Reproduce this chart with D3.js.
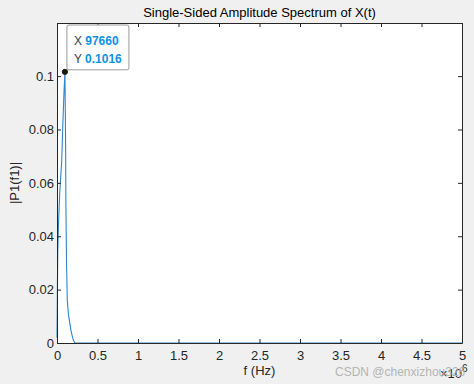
<!DOCTYPE html>
<html>
<head>
<meta charset="utf-8">
<script src="https://cdn.jsdelivr.net/npm/d3@7"></script>
<style>
  body { margin: 0; background: #f0f0f0; }
  text { font-family: "Liberation Sans", Arial, sans-serif; }
</style>
</head>
<body>
<script>
// spectrum samples (Hz, |P1|)
var freqs = [0, 5000, 10000, 20000, 35000, 50000, 58000, 70000, 85000, 97660,
             103000, 107000, 110000, 118000, 127000, 140000, 152000, 170000, 185000, 200000, 220000, 1000000, 5000000];
var amps  = [0.002, 0.02, 0.035, 0.046, 0.057, 0.064, 0.068, 0.08, 0.093, 0.1016,
             0.086, 0.072, 0.05, 0.03, 0.016, 0.011, 0.0086, 0.005, 0.003, 0.0012, 0, 0, 0];
var xTicks = [0, 0.5e6, 1e6, 1.5e6, 2e6, 2.5e6, 3e6, 3.5e6, 4e6, 4.5e6, 5e6];
var yTicks = [0, 0.02, 0.04, 0.06, 0.08, 0.1];
var tipX = 97660, tipY = 0.1016;

var width = 474, height = 384;
var margin = {top: 23, right: 12, bottom: 41, left: 57};

var svg = d3.select("body").append("svg")
	.attr("width", width)
	.attr("height", height);

var xScale = d3.scaleLinear()
	.domain([0, 5e6])
	.range([margin.left, width - margin.right]);

var yScale = d3.scaleLinear()
	.domain([0, 0.1199])
	.range([height - margin.bottom, margin.top]);

var x0 = xScale.range()[0], x1 = xScale.range()[1],
	y0 = yScale.range()[0], y1 = yScale.range()[1];

// axes background
svg.append("rect")
	.attr("x", x0).attr("y", y1)
	.attr("width", x1 - x0).attr("height", y0 - y1)
	.style("fill", "#fff");

// data line
var line = d3.line()
	.x((d, i) => xScale(freqs[i]))
	.y(d => yScale(d));

svg.append("path")
	.datum(amps)
	.attr("d", line)
	.style("fill", "none")
	.style("stroke", "#2f86c8")
	.style("stroke-width", 1.1);

// axes: bottom/left with labels, top/right ticks only, all ticks inward
var tickLen = 4;
svg.append("g")
	.attr("transform", "translate(0," + y0 + ")")
	.call(d3.axisBottom(xScale).tickValues(xTicks).tickSizeInner(-tickLen).tickSizeOuter(0)
		.tickFormat(d => d3.format("")(d / 1e6)));
svg.append("g")
	.attr("transform", "translate(0," + y1 + ")")
	.call(d3.axisTop(xScale).tickValues(xTicks).tickSizeInner(-tickLen).tickSizeOuter(0).tickFormat(""));
svg.append("g")
	.attr("transform", "translate(" + x0 + ",0)")
	.call(d3.axisLeft(yScale).tickValues(yTicks).tickSizeInner(-tickLen).tickSizeOuter(0)
		.tickFormat(d => d3.format("")(+d.toFixed(2))));
svg.append("g")
	.attr("transform", "translate(" + x1 + ",0)")
	.call(d3.axisRight(yScale).tickValues(yTicks).tickSizeInner(-tickLen).tickSizeOuter(0).tickFormat(""));

svg.selectAll(".domain, .tick line").style("stroke", "#262626");
svg.selectAll(".tick text")
	.style("font-size", "13px")
	.style("fill", "#262626")
	.style("font-family", "'Liberation Sans', Arial, sans-serif");
svg.selectAll(".tick text").filter(function() { return this.parentNode.parentNode.getAttribute("transform") == "translate(0," + y0 + ")"; })
	.attr("y", 8);
svg.selectAll(".tick text").filter(function() { return d3.select(this).attr("x") == "-7"; })
	.attr("x", -6);

// titles
svg.append("text")
	.attr("x", (x0 + x1) / 2).attr("y", 17)
	.attr("text-anchor", "middle")
	.style("font-size", "13px").style("fill", "#000")
	.text("Single-Sided Amplitude Spectrum of X(t)");

svg.append("text")
	.attr("x", (x0 + x1) / 2).attr("y", 375)
	.attr("text-anchor", "middle")
	.style("font-size", "13px").style("fill", "#262626")
	.text("f (Hz)");

svg.append("text")
	.attr("transform", "translate(19," + ((y0 + y1) / 2) + ") rotate(-90)")
	.attr("text-anchor", "middle")
	.style("font-size", "13px").style("fill", "#262626")
	.text("|P1(f1)|");

// exponent label
var expo = svg.append("text")
	.attr("x", x1 - 22).attr("y", 378)
	.style("font-size", "13px").style("fill", "#262626");
expo.append("tspan").text("\u00d710");
expo.append("tspan").attr("dy", -6).style("font-size", "10px").text("6");

// watermark
svg.append("text")
	.attr("x", 335).attr("y", 376)
	.style("font-size", "12px").style("fill", "#b4b4b4")
	.text("CSDN @chenxizhou326");

// data tip
var px = xScale(tipX), py = yScale(tipY);
svg.append("rect")
	.attr("x", px + 2).attr("y", 25)
	.attr("width", 62).attr("height", py - 27)
	.attr("rx", 2)
	.style("fill", "#fff")
	.style("stroke", "#9a9a9a");

var tipRows = [["X", d3.format("")(tipX)], ["Y", tipY.toFixed(4)]];
tipRows.forEach(function(r, i) {
	var t = svg.append("text")
		.attr("x", px + 9).attr("y", 45 + i * 18)
		.style("font-size", "12px");
	t.append("tspan").style("fill", "#404040").text(r[0] + " ");
	t.append("tspan").style("fill", "#0b93e6").style("font-weight", "bold").text(r[1]);
});

svg.append("circle")
	.attr("cx", px).attr("cy", py)
	.attr("r", 2.6)
	.style("fill", "#1a1a00")
	.style("stroke", "#1a1a1a");
</script>
</body>
</html>
